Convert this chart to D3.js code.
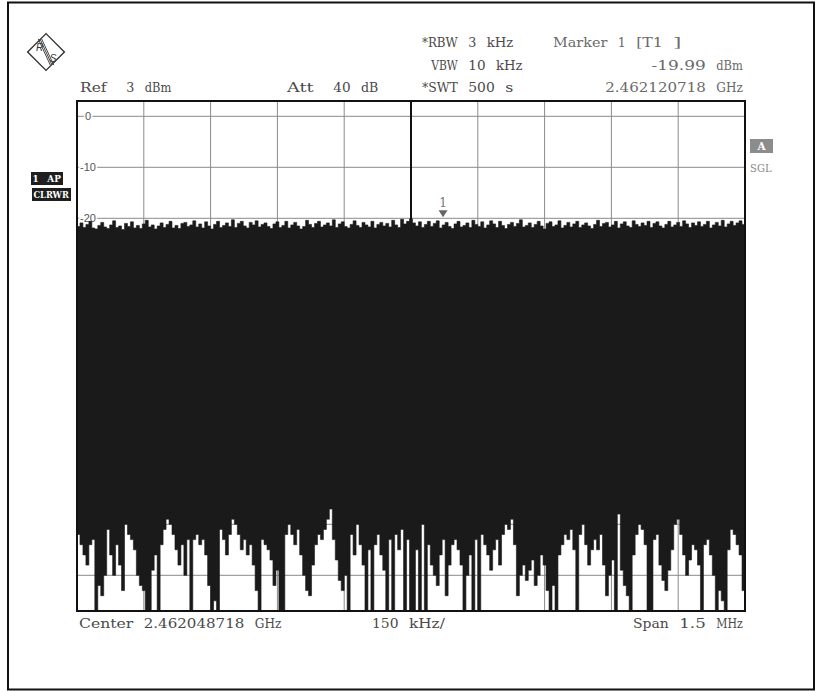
<!DOCTYPE html>
<html><head><meta charset="utf-8">
<script src="https://cdn.jsdelivr.net/npm/d3@7/dist/d3.min.js"></script>
<style>html,body{margin:0;padding:0;background:#fff;}svg{display:block;}</style>
</head><body>
<svg id="c" width="816" height="691"></svg>
<script>
// ---- data ----
const refLevel = 3;          // dBm, top of screen
const dbPerDiv = 10;
const spanKHz = 1500;        // span 1.5 MHz, 150 kHz/div
const yGridValues = [0,-10,-20,-30,-40,-50,-60,-70,-80,-90];
const yLabelValues = [0,-10,-20];
const yLabels = ["0","-10","-20"];
const xGridOffsetsKHz = [-600,-450,-300,-150,0,150,300,450,600];
const markerFreqOffsetKHz = 72;   // 2.462120718 GHz - center
const markerLevel = -19.99;
const headerLeft = ["Ref  3 dBm","Att  40 dB"];
const headerMid = ["*RBW 3 kHz"," VBW 10 kHz","*SWT 500 s"];
const headerRight = ["Marker 1 [T1 ]","-19.99 dBm","2.462120718 GHz"];
const footer = ["Center 2.462048718 GHz","150 kHz/","Span 1.5 MHz"];
// max-hold envelope of the noise trace (dBm), one value per display bin
const traceMax = [
-21.6,-20.9,-21.8,-21.2,-20.6,-21.9,-22.1,-21.4,-20.8,-21.7,-22.0,-21.3,-20.5,-21.8,-21.5,
-22.2,-21.0,-21.6,-20.7,-21.9,-21.4,-22.0,-21.1,-20.4,-21.7,-21.3,-22.1,-21.5,-20.9,-21.8,
-21.2,-20.6,-21.9,-21.4,-22.0,-21.0,-20.8,-21.6,-21.3,-20.5,-21.7,-21.1,-21.9,-20.7,-21.5,
-22.1,-21.2,-20.6,-21.8,-21.4,-20.9,-21.6,-20.3,-21.8,-21.0,-20.6,-21.5,-21.9,-20.8,-21.3,
-20.5,-21.7,-21.2,-20.9,-21.6,-22.0,-21.1,-20.7,-21.8,-21.4,-20.6,-21.9,-21.3,-20.8,-21.5,
-22.1,-21.6,-20.4,-21.2,-21.8,-21.0,-20.6,-21.7,-21.3,-20.9,-21.5,-20.3,-21.8,-21.1,-20.7,
-21.6,-21.9,-21.2,-20.5,-21.4,-21.8,-20.8,-21.3,-21.7,-20.6,-21.9,-21.2,-20.8,-21.5,-21.0,
-21.7,-20.4,-21.3,-21.8,-20.2,-21.1,-20.6,-20.1,-20.9,-21.5,-20.7,-21.8,-21.2,-20.6,-21.6,
-21.0,-20.5,-21.9,-21.3,-20.8,-21.6,-22.0,-21.1,-20.6,-21.7,-21.4,-20.9,-21.8,-20.4,-21.2,
-21.6,-20.7,-21.9,-21.3,-20.5,-21.1,-21.8,-20.6,-21.4,-22.0,-21.2,-20.8,-21.6,-21.0,-20.3,
-21.7,-21.4,-20.9,-21.8,-21.2,-20.6,-21.5,-22.1,-21.0,-20.7,-21.6,-21.3,-20.5,-21.9,-21.4,
-20.8,-21.7,-21.1,-20.6,-21.8,-21.3,-20.9,-21.5,-22.0,-21.2,-20.4,-21.6,-21.0,-20.8,-21.7,
-21.3,-20.6,-21.9,-21.1,-20.7,-21.5,-21.8,-20.5,-21.2,-21.6,-20.9,-21.4,-20.6,-21.8,-21.0,
-20.7,-21.5,-21.9,-21.2,-20.6,-21.7,-21.3,-20.8,-21.6,-20.5,-21.1,-21.8,-20.9,-21.4,-20.7,
-21.6,-21.2,-20.6,-21.9,-21.3,-20.8,-21.5,-20.4,-21.7,-21.1,-20.6,-21.4,-20.9,-20.5,-21.2
];
// min envelope of the noise trace (dBm), one value per display bin
const traceMin = [
-82,-84,-86,-88,-84,-83,-97,-92,-94,-90,-81,-86,-90,-84,-88,
-93,-80,-82,-83,-85,-90,-92,-93,-97,-97,-89,-86,-97,-84,-81,
-79,-80,-82,-85,-88,-84,-90,-83,-97,-83,-82,-84,-83,-86,-92,
-97,-95,-97,-81,-83,-86,-82,-79,-80,-82,-85,-83,-86,-84,-88,
-93,-97,-83,-84,-85,-87,-92,-89,-97,-97,-82,-80,-82,-84,-81,
-86,-90,-93,-94,-88,-84,-82,-83,-81,-79,-77,-83,-87,-91,-93,
-90,-97,-82,-86,-80,-84,-88,-97,-85,-97,-84,-82,-86,-89,-97,
-83,-97,-82,-85,-81,-97,-83,-97,-97,-85,-97,-80,-97,-84,-88,
-90,-92,-86,-83,-94,-88,-84,-83,-85,-88,-97,-90,-86,-97,-83,
-97,-82,-84,-86,-89,-85,-83,-88,-82,-80,-81,-79,-84,-94,-90,
-88,-91,-89,-87,-92,-90,-86,-88,-93,-97,-92,-97,-86,-84,-82,
-83,-81,-85,-97,-82,-80,-84,-88,-85,-83,-85,-82,-88,-94,-90,
-87,-97,-78,-89,-92,-94,-97,-86,-82,-80,-81,-84,-97,-97,-83,
-82,-88,-91,-93,-89,-85,-80,-79,-82,-86,-90,-87,-84,-85,-88,
-97,-84,-83,-86,-90,-97,-93,-95,-97,-85,-81,-82,-84,-86,-93
];

// ---- drawing ----
const svg = d3.select("#c");
const serif = "'DejaVu Serif','Liberation Serif',serif";
const P = {l:77, r:745, t:101, b:611};
const x = d3.scaleLinear().domain([-spanKHz/2, spanKHz/2]).range([P.l, P.r]);
const y = d3.scaleLinear().domain([refLevel, refLevel - 10*dbPerDiv]).range([P.t, P.b]);

// outer border
svg.append("rect").attr("x",8).attr("y",2.5).attr("width",806).attr("height",687)
  .attr("fill","none").attr("stroke","#111").attr("stroke-width",2);

// logo
const logo = svg.append("g").attr("transform","translate(46,52)");
logo.append("rect").attr("x",-13).attr("y",-13).attr("width",26).attr("height",26)
  .attr("transform","rotate(45)").attr("fill","#fff").attr("stroke","#333").attr("stroke-width",1.4);
[-1.7,0,1.7].forEach(o=>{
  logo.append("line").attr("x1",-6+o).attr("y1",-13).attr("x2",6+o).attr("y2",13)
    .attr("stroke","#444").attr("stroke-width",1);
});
logo.append("text").attr("x",-6.5).attr("y",-1).attr("font-family","'Liberation Sans',sans-serif")
  .attr("font-size",10).attr("font-style","italic").attr("fill","#333").attr("text-anchor","middle").text("R");
logo.append("text").attr("x",7).attr("y",10).attr("font-family","'Liberation Sans',sans-serif")
  .attr("font-size",10).attr("font-style","italic").attr("fill","#333").attr("text-anchor","middle").text("S");

// serif words placed on a fixed character grid (like the analyser's Courier)
const PITCH = 9.25;
function mtext(xx, yy, s, anchor, fill, size, pitch, weight){
  pitch = pitch || PITCH;
  const n = Array.from(s).length;
  const x0 = (anchor === "end") ? xx - n*pitch : xx;
  const re = /\S+/g; let m;
  while ((m = re.exec(s)) !== null){
    const L = m[0].length;
    svg.append("text").attr("x", x0 + m.index*pitch).attr("y", yy).attr("font-family", serif)
      .attr("font-size", size||13).attr("fill", fill||"#4a4a4a").attr("font-weight", weight||"normal")
      .attr("textLength", L*pitch - 1.2).attr("lengthAdjust", "spacingAndGlyphs").text(m[0]);
  }
}
mtext(80,92,headerLeft[0]);
mtext(287,92,headerLeft[1]);
mtext(422,47,headerMid[0]);
mtext(422,70,headerMid[1]);
mtext(422,92,headerMid[2]);
mtext(553,47,headerRight[0],"start","#6a6a6a");
mtext(744,70,headerRight[1],"end","#6a6a6a");
mtext(744,92,headerRight[2],"end","#6a6a6a");
mtext(79,628,footer[0]);
mtext(372,628,footer[1]);
mtext(744,628,footer[2],"end");

// left status boxes
function box(bx,by,bw,bh,s,bg,fg){
  svg.append("rect").attr("x",bx).attr("y",by).attr("width",bw).attr("height",bh).attr("fill",bg);
  mtext(bx+1.5, by+bh-3, s, "start", fg, 10, (bw-2.5)/Array.from(s).length, "bold");
}
box(31,172,32,13,"1 AP","#1e1e1e","#fff");
box(32,188,39,13,"CLRWR","#1e1e1e","#fff");
svg.append("rect").attr("x",750).attr("y",139).attr("width",23).attr("height",14).attr("fill","#8c8c8c");
svg.append("text").attr("x",761.5).attr("y",150).attr("text-anchor","middle").attr("font-family",serif)
  .attr("font-weight","bold").attr("font-size",10.5).attr("fill","#fff").text("A");
mtext(750,172,"SGL","start","#888",10.5,7.6);

// plot background
svg.append("rect").attr("x",P.l).attr("y",P.t).attr("width",P.r-P.l).attr("height",P.b-P.t).attr("fill","#fff");

// grid
const g = svg.append("g");
g.selectAll("line.h").data(yGridValues).join("line").attr("class","h")
  .attr("x1",P.l).attr("x2",P.r).attr("y1",d=>y(d)).attr("y2",d=>y(d))
  .attr("stroke","#8a8a8a").attr("stroke-width",1);
g.selectAll("line.v").data(xGridOffsetsKHz).join("line").attr("class","v")
  .attr("y1",P.t).attr("y2",P.b).attr("x1",d=>x(d)).attr("x2",d=>x(d))
  .attr("stroke",d=>d===0?"#111":"#8a8a8a").attr("stroke-width",d=>d===0?2:1);
g.selectAll("text.yl").data(yLabelValues).join("text").attr("class","yl")
  .attr("x",d=> d<0 ? 80 : 85).attr("y",d=>y(d)+4)
  .attr("font-family","'Liberation Sans',sans-serif").attr("font-size",11).attr("fill","#555")
  .attr("stroke","#fff").attr("stroke-width",3).attr("paint-order","stroke")
  .text((d,i)=>yLabels[i]);

// trace
const bw = spanKHz/traceMin.length;
const pts = traceMin.map((lo,i)=>({f:-spanKHz/2 + i*bw, lo:lo, hi:traceMax[i]}));
pts.push({f:spanKHz/2, lo:traceMin[traceMin.length-1], hi:traceMax[traceMax.length-1]});
svg.append("clipPath").attr("id","pc").append("rect")
  .attr("x",P.l).attr("y",P.t).attr("width",P.r-P.l).attr("height",P.b-P.t);
const area = d3.area().curve(d3.curveStepAfter)
  .x(d=>x(d.f)).y0(d=>y(d.lo)).y1(d=>y(d.hi));
svg.append("path").datum(pts).attr("d",area).attr("fill","#1a1a1a")
  .attr("stroke","#1a1a1a").attr("stroke-width",0.6).attr("clip-path","url(#pc)");

// marker
const mx = x(markerFreqOffsetKHz), my = y(markerLevel);
svg.append("path").attr("d",`M${mx-4.5},${my-8}L${mx+4.5},${my-8}L${mx},${my-1}Z`).attr("fill","#666");
svg.append("text").attr("x",mx).attr("y",my-11).attr("text-anchor","middle").attr("font-family",serif)
  .attr("font-size",12).attr("fill","#777").text("1");

// frame
svg.append("rect").attr("x",P.l).attr("y",P.t).attr("width",P.r-P.l).attr("height",P.b-P.t)
  .attr("fill","none").attr("stroke","#111").attr("stroke-width",2);
</script>
</body></html>
